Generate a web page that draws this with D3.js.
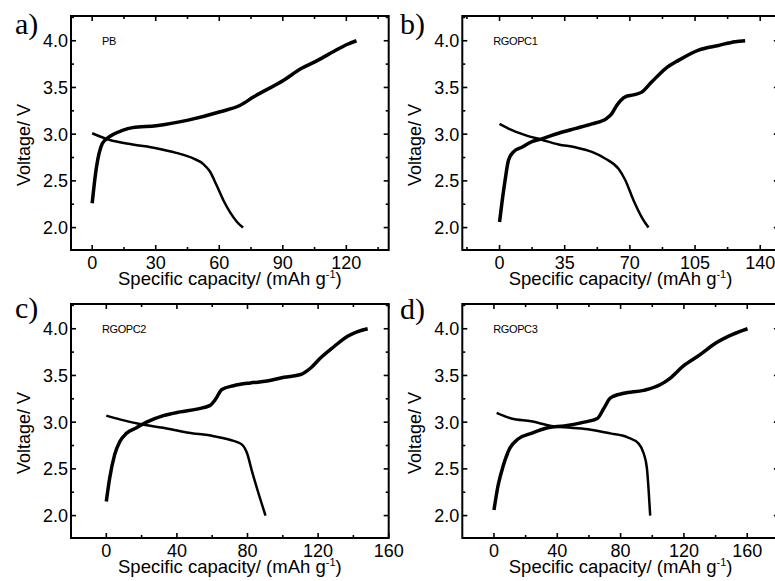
<!DOCTYPE html>
<html><head><meta charset="utf-8">
<script src="https://cdn.jsdelivr.net/npm/d3@7"></script>
<style>body{margin:0;background:#fff}</style>
</head><body>
<svg id="chart" width="775" height="581"></svg>
<script>
// ---------- DATA ----------
const sampleNames = ["PB", "RGOPC1", "RGOPC2", "RGOPC3"];
const panelLetters = ["a)", "b)", "c)", "d)"];

const xDomainA = [-10, 140], xTicksA = [0, 30, 60, 90, 120];
const xDomainB = [-20, 150], xTicksB = [0, 35, 70, 105, 140];
const xDomainC = [-20, 160], xTicksC = [0, 40, 80, 120, 160];
const xDomainD = [-20, 180], xTicksD = [0, 40, 80, 120, 160];
const yDomain = [1.76, 4.265], yTicks = [2.0, 2.5, 3.0, 3.5, 4.0];

// [capacity mAh/g, voltage V]
const chargeA = [[0,2.26],[1.6,2.58],[3.2,2.79],[4.8,2.9],[8,2.97],[14.3,3.04],[19.1,3.07],[30.2,3.09],[45.3,3.15],[60.4,3.24],[69.9,3.31],[76.3,3.4],[90.6,3.58],[98.5,3.7],[106.5,3.79],[114.4,3.89],[120.3,3.96],[124.8,4.0]];
const dischargeA = [[0,3.01],[8,2.94],[19.1,2.89],[30.2,2.85],[39.7,2.8],[47.7,2.74],[52.5,2.68],[55.6,2.6],[58.8,2.45],[62,2.29],[65.2,2.16],[68.4,2.06],[71.2,2.0]];

const chargeB = [[0,2.06],[1.25,2.26],[3,2.51],[4.8,2.72],[7.5,2.81],[12,2.86],[17.4,2.92],[22.7,2.95],[31.7,3.01],[40.6,3.06],[49.6,3.11],[57.6,3.17],[60.3,3.22],[63,3.31],[67.5,3.4],[72,3.42],[76.4,3.45],[81.8,3.56],[89,3.7],[96.1,3.79],[106.9,3.9],[117.6,3.95],[126.6,3.99],[131.9,4.0]];
const dischargeB = [[0,3.11],[4.8,3.06],[13.8,2.99],[22.7,2.94],[31.7,2.89],[40.6,2.86],[49.6,2.81],[56.7,2.74],[63.9,2.63],[67.5,2.51],[72,2.29],[76.4,2.11],[80,2.0]];

const chargeC = [[0,2.15],[1.9,2.4],[4.7,2.65],[7.6,2.79],[11.4,2.88],[17.1,2.94],[22.8,3.0],[32.3,3.07],[41.8,3.11],[51.3,3.14],[58.9,3.18],[61.7,3.24],[65.5,3.35],[72.1,3.39],[81.6,3.42],[91.1,3.44],[100.6,3.48],[110.1,3.51],[115.8,3.58],[121.5,3.69],[129.1,3.81],[136.7,3.92],[142.4,3.97],[148.1,4.0]];
const dischargeC = [[0,3.07],[7.6,3.03],[19,2.98],[32.3,2.94],[45.6,2.89],[60.8,2.85],[72.1,2.8],[76.9,2.76],[79.7,2.67],[82.6,2.47],[85.4,2.29],[90.2,2.0]];

const chargeD = [[0,2.06],[2.7,2.33],[5.8,2.53],[10,2.72],[15.2,2.82],[23.6,2.88],[34,2.94],[44.4,2.96],[57,3.0],[65.3,3.04],[69.5,3.15],[73.6,3.26],[82,3.31],[94.5,3.34],[104.9,3.4],[111.2,3.47],[119.5,3.6],[130,3.72],[140.4,3.85],[150.8,3.94],[160.2,4.0]];
const dischargeD = [[1.7,3.1],[11,3.04],[23.6,3.01],[36.1,2.96],[48.6,2.94],[61.1,2.92],[73.6,2.88],[84.1,2.84],[91.4,2.77],[94.5,2.67],[96.6,2.51],[97.6,2.3],[98.7,2.0]];

// ---------- LAYOUT ----------
const panels = [
  {name: sampleNames[0], letter: panelLetters[0], charge: chargeA, discharge: dischargeA, xDomain: xDomainA, xTicks: xTicksA, left: 71, top: 16, pxPerUnit: 2.118, letterX: 15, letterY: 34},
  {name: sampleNames[1], letter: panelLetters[1], charge: chargeB, discharge: dischargeB, xDomain: xDomainB, xTicks: xTicksB, left: 462.3, top: 16, pxPerUnit: 1.862, letterX: 400, letterY: 34},
  {name: sampleNames[2], letter: panelLetters[2], charge: chargeC, discharge: dischargeC, xDomain: xDomainC, xTicks: xTicksC, left: 71, top: 304, pxPerUnit: 1.765, letterX: 15, letterY: 318},
  {name: sampleNames[3], letter: panelLetters[3], charge: chargeD, discharge: dischargeD, xDomain: xDomainD, xTicks: xTicksD, left: 462.3, top: 304, pxPerUnit: 1.583, letterX: 400, letterY: 319}
];
const plotH = 234;
const svg = d3.select("#chart");
const font = "Liberation Sans, Arial, sans-serif";

panels.forEach(p => {
  const right = p.left + (p.xDomain[1] - p.xDomain[0]) * p.pxPerUnit;
  const bottom = p.top + plotH;
  const x = d3.scaleLinear().domain(p.xDomain).range([p.left, right]);
  const y = d3.scaleLinear().domain(yDomain).range([bottom, p.top]);
  const g = svg.append("g");

  // minor ticks
  const step = p.xTicks[1] - p.xTicks[0];
  const xMinor = [];
  for (let v = p.xTicks[0] - step / 2; v <= p.xDomain[1]; v += step) if (v > p.xDomain[0]) xMinor.push(v);
  const yMinor = [];
  for (let v = 1.75; v <= yDomain[1]; v += 0.25) if (v > yDomain[0] && v < yDomain[1] && !yTicks.includes(+v.toFixed(2))) yMinor.push(v);

  const tickStyle = sel => sel.attr("stroke", "#000").attr("stroke-width", 1.6);
  [[p.xTicks, 5], [xMinor, 3]].forEach(([vals, len]) => {
    vals.forEach(v => {
      tickStyle(g.append("line").attr("x1", x(v)).attr("x2", x(v)).attr("y1", bottom).attr("y2", bottom - len));
      tickStyle(g.append("line").attr("x1", x(v)).attr("x2", x(v)).attr("y1", p.top).attr("y2", p.top + len));
    });
  });
  [[yTicks, 5], [yMinor, 3]].forEach(([vals, len]) => {
    vals.forEach(v => {
      tickStyle(g.append("line").attr("y1", y(v)).attr("y2", y(v)).attr("x1", p.left).attr("x2", p.left + len));
      tickStyle(g.append("line").attr("y1", y(v)).attr("y2", y(v)).attr("x1", right).attr("x2", right - len));
    });
  });

  // frame
  g.append("rect").attr("x", p.left).attr("y", p.top).attr("width", right - p.left).attr("height", plotH)
    .attr("fill", "none").attr("stroke", "#000").attr("stroke-width", 2);

  // tick labels
  p.xTicks.forEach(v => {
    g.append("text").attr("x", x(v)).attr("y", bottom + 19).attr("text-anchor", "middle")
      .attr("font-family", font).attr("font-size", 18).text(v);
  });
  yTicks.forEach(v => {
    g.append("text").attr("x", p.left - 3).attr("y", y(v)).attr("dy", "0.36em").attr("text-anchor", "end")
      .attr("font-family", font).attr("font-size", 18).text(v.toFixed(1));
  });

  // axis titles
  const xt = g.append("text").attr("x", (p.left + Math.min(right, 779)) / 2).attr("y", bottom + 34.5)
    .attr("text-anchor", "middle").attr("font-family", font).attr("font-size", 18.5);
  xt.append("tspan").text("Specific capacity/ (mAh g");
  xt.append("tspan").attr("font-size", 11).attr("dy", -7).text("-1");
  xt.append("tspan").attr("dy", 7).text(")");

  g.append("text").attr("transform", `translate(${p.left - 41},${p.top + 129}) rotate(-90)`)
    .attr("text-anchor", "middle").attr("font-family", font).attr("font-size", 18).text("Voltage/ V");

  // sample label
  g.append("text").attr("x", p.left + 31).attr("y", p.top + 29).attr("font-family", font)
    .attr("font-size", 11).attr("letter-spacing", -0.4).text(p.name);

  // panel letter
  g.append("text").attr("x", p.letterX).attr("y", p.letterY).attr("font-family", "Liberation Serif, Times New Roman, serif")
    .attr("font-size", 30).text(p.letter);

  // curves
  const line = d3.line().x(d => x(d[0])).y(d => y(d[1])).curve(d3.curveMonotoneX);
  g.append("path").datum(p.discharge).attr("d", line).attr("fill", "none").attr("stroke", "#000").attr("stroke-width", 2.5).attr("stroke-linejoin", "round");
  g.append("path").datum(p.charge).attr("d", line).attr("fill", "none").attr("stroke", "#000").attr("stroke-width", 3.5).attr("stroke-linejoin", "round");
});
</script>
</body></html>
